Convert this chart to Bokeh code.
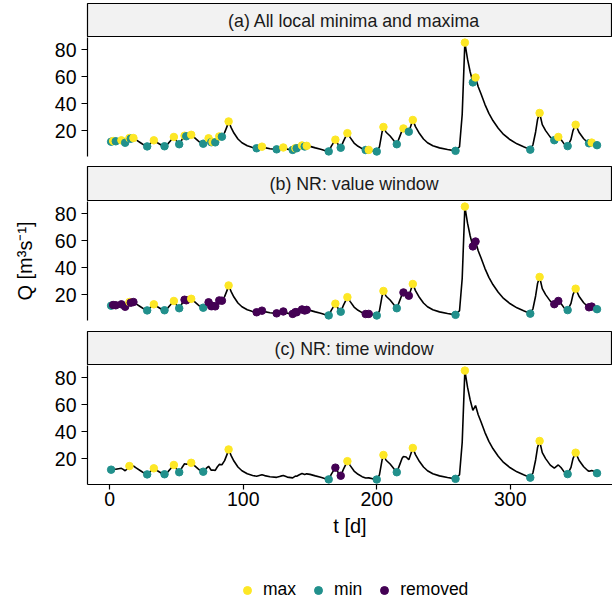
from bokeh.plotting import figure
from bokeh.layouts import column
from bokeh.models import (Range1d, FixedTicker, Label, Legend, LegendItem,
                          ColumnDataSource)
from bokeh.embed import file_html
from bokeh.resources import INLINE

# ---------------- data ----------------
t_line = [1, 2.5, 4.5, 6.5, 8.7, 10, 11.5, 13, 14.7, 15.7, 17.7, 20, 23, 26, 28, 30, 33, 36, 39, 41,
          43, 45.5, 48, 50, 52, 54, 56, 57.3, 59, 61, 63, 66, 68, 70, 72, 74, 76, 77, 79, 80.5,
          82, 84, 86, 88, 89, 91, 93, 96, 99, 103, 107, 110, 112, 114, 116, 120, 125, 128, 130, 133,
          137, 139, 140, 142, 144, 146, 147.5, 150, 154, 158, 161, 164, 166, 169, 171, 173, 175, 178, 180, 183,
          186, 189, 191.7, 194, 197, 200, 202, 204, 205, 207, 210, 213, 215, 217, 219, 220, 222, 224, 225.5, 227,
          229, 232, 235, 238, 242, 247, 253, 259, 262, 264, 266, 268, 270, 272, 274, 276, 278, 281, 284, 287,
          291, 295, 300, 305, 310, 315, 317, 319, 320.5, 322, 324, 326.5, 330, 333, 336, 338, 340.5, 343, 345.5, 347,
          349, 351.5, 355, 358, 359, 361, 363, 365]
q_line = [11.8, 12.3, 12.1, 12.5, 12.8, 12.0, 11.0, 12.4, 14.5, 14.0, 14.5, 13.0, 11.0, 9.0, 8.3, 10.2, 12.8, 10.8, 9.0, 8.4,
          9.6, 12.5, 15.3, 12.3, 9.9, 13.2, 16.2, 15.8, 16.4, 16.9, 15.2, 12.6, 11.0, 10.3, 12.6, 14.3, 11.4, 11.6, 11.3, 13.8,
          15.7, 15.5, 18.5, 23.5, 26.8, 22.0, 18.2, 13.8, 11.0, 8.8, 7.5, 6.9, 7.5, 8.1, 7.4, 6.6, 6.1, 7.0, 7.5, 6.3,
          5.7, 7.0, 6.9, 8.0, 9.0, 8.2, 8.7, 8.3, 7.2, 6.2, 5.3, 4.6, 8.5, 13.3, 9.8, 7.3, 12.0, 18.1, 15.0, 10.8,
          8.4, 6.6, 5.6, 5.7, 5.0, 4.5, 8.0, 19.0, 22.7, 18.8, 16.0, 12.3, 9.9, 15.0, 20.3, 21.6, 21.2, 19.2, 23.5, 27.9,
          23.0, 17.8, 13.8, 11.0, 8.8, 7.2, 6.0, 5.0, 8.0, 32.0, 85.3, 73.0, 63.5, 55.8, 59.4, 52.5, 47.5, 39.5, 32.8, 27.5,
          21.8, 17.2, 13.2, 10.2, 8.0, 5.9, 9.5, 19.0, 28.5, 33.1, 24.5, 20.0, 15.2, 12.9, 15.3, 13.4, 10.0, 8.5, 13.5, 20.0,
          24.4, 18.8, 14.0, 11.2, 10.6, 11.1, 10.4, 9.2]

# (a) all local extrema
ext_t = [1, 2.5, 4.5, 8.7, 11.5, 14.7, 15.7, 17.7, 28, 33, 41, 48, 52, 56, 57.3, 61, 70, 74, 76, 77,
         79, 82, 84, 89, 110, 114, 125, 130, 137, 139, 140, 144, 146, 147.5, 164, 169, 173, 178, 191.7, 194,
         200, 205, 215, 220, 224, 227, 259, 266, 272, 274, 315, 322, 333, 336, 343, 349, 359, 361, 365]
ext_q = [11.8, 12.3, 12.1, 12.8, 11.0, 14.5, 14.0, 14.5, 8.3, 12.8, 8.4, 15.3, 9.9, 16.2, 15.8, 16.9, 10.3, 14.3, 11.4, 11.6,
         11.3, 15.7, 15.5, 26.8, 6.9, 8.1, 6.1, 7.5, 5.7, 7.0, 6.9, 9.0, 8.2, 8.7, 4.6, 13.3, 7.3, 18.1, 5.6, 5.7,
         4.5, 22.7, 9.9, 21.6, 19.2, 27.9, 5.0, 85.3, 55.8, 59.4, 5.9, 33.1, 12.9, 15.3, 8.5, 24.4, 10.6, 11.1, 9.2]
type_a = ["min", "max", "min", "max", "min", "max", "min", "max", "min", "max", "min", "max", "min", "max", "min", "max",
          "min", "max", "min", "max", "min", "max", "min", "max", "min", "max", "min", "max", "min", "max", "min", "max",
          "min", "max", "min", "max", "min", "max", "min", "max", "min", "max", "min", "max", "min", "max", "min", "max",
          "min", "max", "min", "max", "min", "max", "min", "max", "min", "max", "min"]
# (b) NR: value window
type_b = ["min", "removed", "removed", "removed", "removed", "max", "removed", "removed", "min", "max", "min", "max",
          "min", "removed", "removed", "max", "min", "removed", "removed", "removed", "removed", "removed", "removed", "max",
          "removed", "removed", "removed", "removed", "removed", "removed", "removed", "removed", "removed", "removed",
          "min", "max", "min", "max", "removed", "removed", "min", "max", "min", "removed", "removed", "max",
          "min", "max", "removed", "removed", "min", "max", "removed", "removed", "min", "max", "removed", "removed", "min"]
# (c) NR: time window
c_t = [1, 14.7, 28, 33, 41, 48, 52, 61, 70, 89, 164, 169, 173, 178, 200, 205, 215, 227, 259, 266, 315, 322, 343, 349, 365]
c_q = [11.8, 14.5, 8.3, 12.8, 8.4, 15.3, 9.9, 16.9, 10.3, 26.8, 4.6, 13.3, 7.3, 18.1, 4.5, 22.7, 9.9, 27.9, 5.0, 85.3,
       5.9, 33.1, 8.5, 24.4, 9.2]
type_c = ["min", "max", "min", "max", "min", "max", "min", "max", "min", "max", "min", "removed", "removed", "max",
          "min", "max", "min", "max", "min", "max", "min", "max", "min", "max", "min"]

panel_titles = ["(a) All local minima and maxima", "(b) NR: value window", "(c) NR: time window"]
y_ticks = [20, 40, 60, 80]
x_ticks = [0, 100, 200, 300]
categories = ["max", "min", "removed"]
palette = {"max": "#FDE725", "min": "#21908C", "removed": "#440154"}

# ---------------- layout constants ----------------
FONT = "Liberation Sans"
W = 612
LB = 87
X0, X1 = -16.7, 376.6
Y0, Y1 = 0.8, 89.1
T_CENTER = (t_line[0] + t_line[-1]) / 2


def strip(text, h, top=0):
    s = figure(width=W, height=h, x_range=Range1d(X0, X1), y_range=Range1d(0, 1),
               x_axis_location=None, y_axis_location=None, toolbar_location=None,
               output_backend="svg", min_border_left=LB, min_border_right=0,
               min_border_top=top, min_border_bottom=0,
               background_fill_color="#F2F2F2", border_fill_color="white",
               outline_line_color="black", outline_line_width=1.2)
    s.grid.visible = False
    s.add_layout(Label(x=T_CENTER, y=0.5, text=text, text_align="center",
                       text_baseline="middle", text_font=FONT,
                       text_font_size="17.8px", text_color="#1A1A1A"))
    return s


def panel(h, bottom, show_x, ylabel=None):
    p = figure(width=W, height=h, x_range=Range1d(X0, X1), y_range=Range1d(Y0, Y1),
               x_axis_location="below" if show_x else None, toolbar_location=None,
               output_backend="svg", min_border_left=LB, min_border_right=0,
               min_border_top=0, min_border_bottom=bottom, outline_line_color=None,
               background_fill_color="white", border_fill_color="white")
    p.grid.visible = False
    ya = p.yaxis[0]
    ya.ticker = FixedTicker(ticks=y_ticks)
    ya.axis_line_color = "black"
    ya.axis_line_width = 1.2
    ya.major_tick_line_color = "black"
    ya.major_tick_line_width = 1.2
    ya.major_tick_out = 6
    ya.major_tick_in = 0
    ya.minor_tick_line_color = None
    ya.major_label_standoff = 5
    ya.major_label_text_font = FONT
    ya.major_label_text_font_size = "19.5px"
    ya.major_label_text_color = "black"
    if ylabel:
        ya.axis_label = ylabel
        ya.axis_label_text_font = FONT
        ya.axis_label_text_font_size = "20px"
        ya.axis_label_text_font_style = "normal"
        ya.axis_label_text_color = "black"
        ya.axis_label_standoff = 16
    if show_x:
        xa = p.xaxis[0]
        xa.ticker = FixedTicker(ticks=x_ticks)
        xa.axis_line_color = "black"
        xa.axis_line_width = 1.2
        xa.major_tick_line_color = "black"
        xa.major_tick_line_width = 1.2
        xa.major_tick_out = 5
        xa.major_tick_in = 0
        xa.minor_tick_line_color = None
        xa.major_label_standoff = 2
        xa.major_label_text_font = FONT
        xa.major_label_text_font_size = "19.5px"
        xa.major_label_text_color = "black"
        xa.axis_label = "t [d]"
        xa.axis_label_text_font = FONT
        xa.axis_label_text_font_size = "20px"
        xa.axis_label_text_font_style = "normal"
        xa.axis_label_text_color = "black"
        xa.axis_label_standoff = 6
    p.line(t_line, q_line, line_color="black", line_width=1.6)
    return p


def add_points(p, ts, qs, types):
    src = ColumnDataSource(dict(t=ts, q=qs, color=[palette[k] for k in types]))
    p.scatter("t", "q", source=src, color="color", size=7.5)


sa = strip(panel_titles[0], 37, top=3)
pa = panel(129, 10, False)
add_points(pa, ext_t, ext_q, type_a)

sb = strip(panel_titles[1], 35)
pb = panel(130, 11, False, ylabel="Q [m³s⁻¹]")
add_points(pb, ext_t, ext_q, type_b)

sc = strip(panel_titles[2], 34)
pc = panel(179, 60, True)

# legend row below the last panel
pl = figure(width=W, height=58, x_range=Range1d(X0, X1), y_range=Range1d(Y0, Y1),
            x_axis_location=None, y_axis_location=None, toolbar_location=None,
            output_backend="svg", min_border_left=LB, min_border_right=0,
            min_border_top=0, min_border_bottom=0, outline_line_color=None,
            background_fill_color="white", border_fill_color="white")
pl.grid.visible = False

items = []
for cat in categories:
    idx = [i for i, k in enumerate(type_c) if k == cat]
    src = ColumnDataSource(dict(t=[c_t[i] for i in idx], q=[c_q[i] for i in idx]))
    pc.scatter("t", "q", source=src, color=palette[cat], size=7.5)
    key = pl.scatter("t", "q", source=src, color=palette[cat], size=7.5, visible=False)
    items.append(LegendItem(label=cat, renderers=[key]))

legend = Legend(items=items, orientation="horizontal", location=(150, 2),
                label_text_font=FONT, label_text_font_size="17.5px",
                label_text_color="black", label_standoff=6, spacing=12,
                glyph_width=20, glyph_height=20, padding=5, margin=0,
                border_line_color=None, background_fill_alpha=0,
                inactive_fill_alpha=0)
pl.add_layout(legend, "center")

layout = column(sa, pa, sb, pb, sc, pc, pl, spacing=0)
open("out.html", "w").write(file_html(layout, INLINE))
